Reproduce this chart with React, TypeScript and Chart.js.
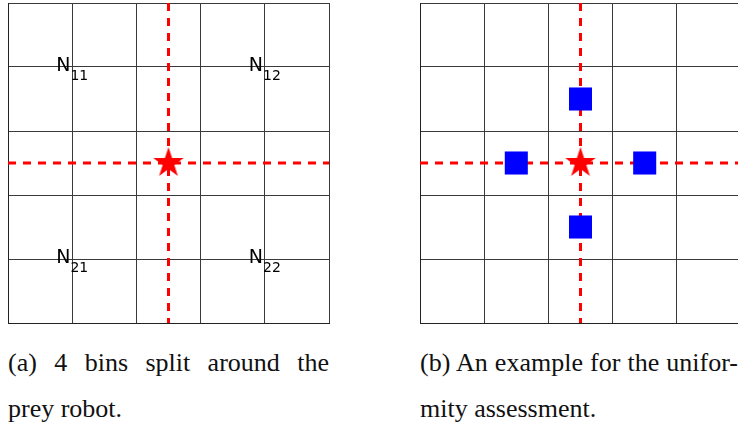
import React, { useEffect, useRef } from "react";
import { Chart, registerables } from "chart.js";
Chart.register(...registerables);

// ---- data ----
const axisMin = 0;
const axisMax = 5;
const gridStep = 1;
const splitLineX = [2.5];
const splitLineY = [2.5];
const preyX = [2.5];
const preyY = [2.5];
const binLabelX = [1, 4, 1, 4];
const binLabelY = [4, 4, 1, 1];
const binLabelMain = ["N", "N", "N", "N"];
const binLabelSub = ["11", "12", "21", "22"];
const predatorX = [2.5, 1.5, 3.5, 2.5];
const predatorY = [3.5, 2.5, 2.5, 1.5];
const captionA = ["(a) 4 bins split around the", "prey robot."];
const captionB = ["(b) An example for the unifor-", "mity assessment."];

function makeStar(R: number, color: string): HTMLCanvasElement {
  const size = Math.ceil(R * 2) + 2;
  const c = document.createElement("canvas");
  c.width = size;
  c.height = size;
  const ctx = c.getContext("2d")!;
  const cx = size / 2;
  const cy = size / 2;
  const r = R * 0.381966;
  ctx.beginPath();
  for (let i = 0; i < 10; i++) {
    const rad = i % 2 === 0 ? R : r;
    const a = -Math.PI / 2 + (i * Math.PI) / 5;
    const px = cx + rad * Math.cos(a);
    const py = cy + rad * Math.sin(a);
    if (i === 0) ctx.moveTo(px, py);
    else ctx.lineTo(px, py);
  }
  ctx.closePath();
  ctx.fillStyle = color;
  ctx.fill();
  return c;
}

const binLabelPlugin = {
  id: "binLabels",
  afterDatasetsDraw(chart: any) {
    const { ctx, scales } = chart;
    const xs = scales.x;
    const ys = scales.y;
    ctx.save();
    ctx.fillStyle = "#000";
    ctx.textBaseline = "alphabetic";
    ctx.textAlign = "left";
    binLabelSub.forEach((sub, i) => {
      const px = xs.getPixelForValue(binLabelX[i]);
      const py = ys.getPixelForValue(binLabelY[i]);
      ctx.font = '19px "DejaVu Sans"';
      const wN = ctx.measureText(binLabelMain[i]).width;
      ctx.font = '14px "DejaVu Sans"';
      const wS = ctx.measureText(sub).width;
      const left = px - (wN + wS) / 2;
      ctx.font = '19px "DejaVu Sans"';
      ctx.fillText(binLabelMain[i], left, py + 4);
      ctx.font = '14px "DejaVu Sans"';
      ctx.fillText(sub, left + wN, py + 13);
    });
    ctx.restore();
  },
};

function makeScale() {
  return {
    type: "linear" as const,
    min: axisMin,
    max: axisMax,
    ticks: { display: false, stepSize: gridStep },
    grid: { color: "#3a3a3a", lineWidth: 1, drawTicks: false },
    border: { display: true, color: "#222", width: 1 },
  };
}

function buildDatasets(withPredators: boolean) {
  const ds: any[] = [];
  ds.push({
    label: "prey",
    data: preyX.map((x, i) => ({ x, y: preyY[i] })),
    pointStyle: makeStar(16, "#ff0000"),
    pointRadius: 16,
    showLine: false,
    order: 0,
  });
  if (withPredators) {
    ds.push({
      label: "predators",
      data: predatorX.map((x, i) => ({ x, y: predatorY[i] })),
      pointStyle: "rect",
      pointRadius: 16.3,
      backgroundColor: "#0000ff",
      borderColor: "#0000ff",
      borderWidth: 0,
      showLine: false,
      order: 1,
    });
  }
  splitLineX.forEach((sx) => {
    ds.push({
      label: "splitV",
      data: [
        { x: sx, y: axisMax },
        { x: sx, y: axisMin },
      ],
      showLine: true,
      borderColor: "#ff0000",
      borderWidth: 3,
      borderDash: [8, 7],
      pointRadius: 0,
      order: 2,
    });
  });
  splitLineY.forEach((sy) => {
    ds.push({
      label: "splitH",
      data: [
        { x: axisMin, y: sy },
        { x: axisMax, y: sy },
      ],
      showLine: true,
      borderColor: "#ff0000",
      borderWidth: 3,
      borderDash: [8, 7],
      pointRadius: 0,
      order: 3,
    });
  });
  return ds;
}

function Panel(props: {
  left: number;
  width: number;
  padding: { left: number; right: number; top: number; bottom: number };
  withLabels: boolean;
  withPredators: boolean;
}) {
  const ref = useRef<HTMLCanvasElement>(null);
  useEffect(() => {
    if (!ref.current) return;
    const chart = new Chart(ref.current, {
      type: "scatter",
      data: { datasets: buildDatasets(props.withPredators) },
      options: {
        animation: false,
        responsive: false,
        maintainAspectRatio: false,
        events: [],
        layout: { padding: props.padding, autoPadding: false },
        plugins: { legend: { display: false }, tooltip: { enabled: false } },
        scales: { x: makeScale(), y: makeScale() },
      },
      plugins: props.withLabels ? [binLabelPlugin] : [],
    } as any);
    return () => chart.destroy();
  }, []);
  return (
    <canvas
      ref={ref}
      width={props.width}
      height={330}
      style={{ position: "absolute", left: props.left, top: 0, width: props.width, height: 330 }}
    />
  );
}

const captionFont = '"Liberation Serif", "DejaVu Serif", serif';

function Caption(props: { left: number; width: number; lines: string[] }) {
  return (
    <div
      style={{
        position: "absolute",
        left: props.left,
        top: 340,
        width: props.width,
        fontFamily: captionFont,
        fontSize: 26,
        lineHeight: "46px",
        color: "#111",
      }}
    >
      <div style={{ textAlign: "justify", textAlignLast: "justify", whiteSpace: "nowrap" as any }}>
        {props.lines[0]}
      </div>
      <div style={{ textAlign: "left", whiteSpace: "nowrap" }}>{props.lines[1]}</div>
    </div>
  );
}

export default function App() {
  return (
    <div
      style={{
        position: "fixed",
        left: 0,
        top: 0,
        width: 738,
        height: 426,
        overflow: "hidden",
        background: "#fff",
      }}
    >
      <Panel
        left={0}
        width={340}
        padding={{ left: 8, right: 11, top: 3, bottom: 7 }}
        withLabels={true}
        withPredators={false}
      />
      <Panel
        left={412}
        width={338}
        padding={{ left: 8, right: 9, top: 3, bottom: 7 }}
        withLabels={false}
        withPredators={true}
      />
      <Caption left={8} width={321} lines={captionA} />
      <Caption left={420} width={318} lines={captionB} />
    </div>
  );
}
